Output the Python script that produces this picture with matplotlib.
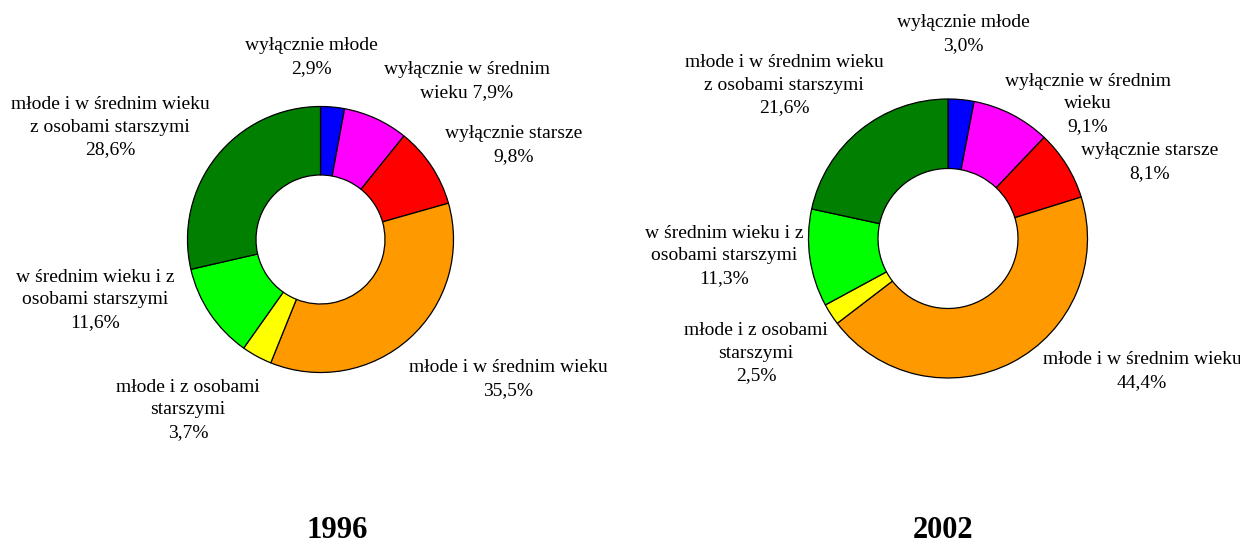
import matplotlib
matplotlib.use("Agg")
import matplotlib.pyplot as plt

colors = ["#0000FF", "#FF00FF", "#FF0000", "#FF9900", "#FFFF00", "#00FF00", "#007F00"]
categories = ["wyłącznie młode", "wyłącznie w średnim wieku", "wyłącznie starsze",
              "młode i w średnim wieku", "młode i z osobami starszymi",
              "w średnim wieku i z osobami starszymi",
              "młode i w średnim wieku z osobami starszymi"]
values_1996 = [2.9, 7.9, 9.8, 35.5, 3.7, 11.6, 28.6]
values_2002 = [3.0, 9.1, 8.1, 44.4, 2.5, 11.3, 21.6]
years = ["1996", "2002"]

# label layouts (text lines, position in pixels) for each chart
labels_1996 = [
    ("wyłącznie młode\n{v}", (311, 57)),
    ("wyłącznie w średnim\nwieku {v}", (467, 81)),
    ("wyłącznie starsze\n{v}", (514, 145)),
    ("młode i w średnim wieku\n{v}", (508, 379)),
    ("młode i z osobami\nstarszymi\n{v}", (188, 410)),
    ("w średnim wieku i z\nosobami starszymi\n{v}", (95, 300)),
    ("młode i w średnim wieku\nz osobami starszymi\n{v}", (110, 127)),
]
labels_2002 = [
    ("wyłącznie młode\n{v}", (963, 34)),
    ("wyłącznie w średnim\nwieku\n{v}", (1088, 104)),
    ("wyłącznie starsze\n{v}", (1150, 162)),
    ("młode i w średnim wieku\n{v}", (1142, 371)),
    ("młode i z osobami\nstarszymi\n{v}", (756, 353)),
    ("w średnim wieku i z\nosobami starszymi\n{v}", (724, 256)),
    ("młode i w średnim wieku\nz osobami starszymi\n{v}", (784, 85)),
]

W, H = 1240, 544
fig = plt.figure(figsize=(W / 100, H / 100), dpi=100)
ax = fig.add_axes([0, 0, 1, 1])
ax.set_xlim(0, W)
ax.set_ylim(0, H)
ax.set_aspect("equal")
ax.axis("off")

font = "Liberation Serif"

def fmt(v):
    return f"{v:.1f}".replace(".", ",") + "%"

charts = [
    (values_1996, labels_1996, (320.5, 239.5), 133, 64.5, (337, 530)),
    (values_2002, labels_2002, (948, 238.5), 139.5, 70, (943, 530)),
]
for (vals, labs, (cx, cy), r_out, r_in, tpos), year in zip(charts, years):
    ax.pie(vals, colors=colors, startangle=90, counterclock=False,
           center=(cx, H - cy), radius=r_out,
           wedgeprops=dict(width=r_out - r_in, edgecolor="black", linewidth=0.9))
    for (tmpl, (x, y)), v in zip(labs, vals):
        ax.text(x, H - y, tmpl.format(v=fmt(v)), ha="center", va="center",
                fontsize=14, family=font, linespacing=1.42)
    ax.text(tpos[0], H - tpos[1], year, ha="center", va="center",
            fontsize=22, fontweight="bold", family=font)

ax.set_xlim(0, W)
ax.set_ylim(0, H)
fig.savefig("out.png", dpi=100)
